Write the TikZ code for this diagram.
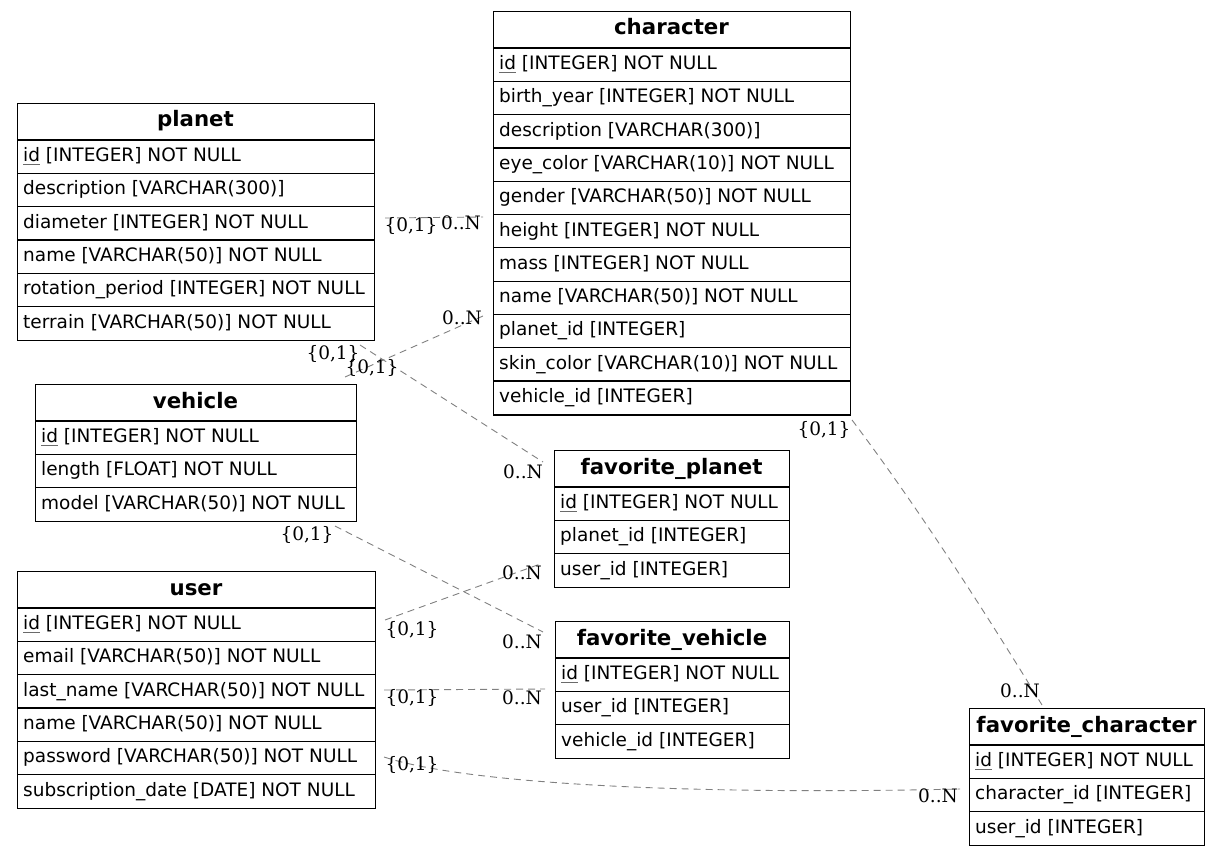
\documentclass[tikz,border=0pt]{standalone}
\usepackage{fontspec}
\setmainfont{DejaVu Sans}
\newfontfamily\cardfont{DejaVu Serif}
\usetikzlibrary{calc}

\definecolor{edgegray}{HTML}{808080}
\definecolor{keyline}{HTML}{6a6a6a}

\tikzset{
  tablebox/.style={draw=black, line width=1.2pt, fill=white, inner sep=0pt, anchor=north west},
  rowline/.style={draw=black, line width=1.2pt},
  titletext/.style={inner sep=0pt, anchor=base, font=\fontsize{21.3}{25}\selectfont\bfseries},
  fieldtext/.style={inner sep=0pt, anchor=base west, font=\fontsize{18.5}{22}\selectfont},
  relation/.style={draw=edgegray, line width=0.9pt, dash pattern=on 7pt off 5pt},
  card/.style={inner sep=0pt, font=\cardfont\fontsize{18.5}{22}\selectfont},
}

% primary key column name, underlined with a thin grey rule
\newcommand\pkey[1]{\leavevmode\setbox0\hbox{#1}\rlap{\color{keyline}\rule[-3pt]{\wd0}{0.8pt}}\box0\relax}

% #1 name, #2 left, #3 top, #4 width, #5 number of fields, #6 title, #7 fields
\newcommand\ertable[7]{%
  \node[tablebox, minimum width=#4pt, minimum height={37pt+#5*33.3pt}] (#1) at (#2,#3) {};
  \node[titletext] (#1-title) at ({#2+#4/2},{#3+24}) {#6};
  \foreach \fld [count=\i] in {#7} {
    \draw[rowline] ({#2},{#3+37+(\i-1)*33.3}) -- ++(#4,0);
    \node[fieldtext] (#1-f\i) at ({#2+6},{#3+37+(\i-1)*33.3+21.5}) {\fld};
  }%
}

\begin{document}
\begin{tikzpicture}[x=1pt, y=-1pt]
\useasboundingbox (0,0) rectangle (1220,856);

% tables
\ertable{planet}{17}{103}{357}{6}{planet}{
  \pkey{id} [INTEGER] NOT NULL,
  description [VARCHAR(300)],
  diameter [INTEGER] NOT NULL,
  name [VARCHAR(50)] NOT NULL,
  rotation\_period [INTEGER] NOT NULL,
  terrain [VARCHAR(50)] NOT NULL}

\ertable{character}{493}{11}{357}{11}{character}{
  \pkey{id} [INTEGER] NOT NULL,
  birth\_year [INTEGER] NOT NULL,
  description [VARCHAR(300)],
  eye\_color [VARCHAR(10)] NOT NULL,
  gender [VARCHAR(50)] NOT NULL,
  height [INTEGER] NOT NULL,
  mass [INTEGER] NOT NULL,
  name [VARCHAR(50)] NOT NULL,
  planet\_id [INTEGER],
  skin\_color [VARCHAR(10)] NOT NULL,
  vehicle\_id [INTEGER]}

\ertable{vehicle}{35}{384}{321}{3}{vehicle}{
  \pkey{id} [INTEGER] NOT NULL,
  length [FLOAT] NOT NULL,
  model [VARCHAR(50)] NOT NULL}

\ertable{user}{17}{571}{358}{6}{user}{
  \pkey{id} [INTEGER] NOT NULL,
  email [VARCHAR(50)] NOT NULL,
  last\_name [VARCHAR(50)] NOT NULL,
  name [VARCHAR(50)] NOT NULL,
  password [VARCHAR(50)] NOT NULL,
  subscription\_date [DATE] NOT NULL}

\ertable{favplanet}{554}{450}{235}{3}{favorite\_planet}{
  \pkey{id} [INTEGER] NOT NULL,
  planet\_id [INTEGER],
  user\_id [INTEGER]}

\ertable{favvehicle}{555}{621}{234}{3}{favorite\_vehicle}{
  \pkey{id} [INTEGER] NOT NULL,
  user\_id [INTEGER],
  vehicle\_id [INTEGER]}

\ertable{favcharacter}{969}{708}{235}{3}{favorite\_character}{
  \pkey{id} [INTEGER] NOT NULL,
  character\_id [INTEGER],
  user\_id [INTEGER]}

% relation end points
\coordinate (pc-a) at (385,218);  \coordinate (pc-b) at (483,217);
\coordinate (pf-a) at (360,345);  \coordinate (pf-b) at (543,462);
\coordinate (vc-a) at (345,377);  \coordinate (vc-b) at (483,316);
\coordinate (vf-a) at (335,526);  \coordinate (vf-b) at (543,632);
\coordinate (up-a) at (385,620);  \coordinate (up-b) at (543,563);
\coordinate (uv-a) at (384,690);  \coordinate (uv-b) at (545,689);
\coordinate (uc-a) at (384,757);  \coordinate (uc-b) at (960,789);
\coordinate (cc-a) at (852,420);  \coordinate (cc-b) at (1042,705);

% relations
\draw[relation] (pc-a) -- (pc-b);
\draw[relation] (pf-a) -- (pf-b);
\draw[relation] (vc-a) -- (vc-b);
\draw[relation] (vf-a) -- (vf-b);
\draw[relation] (up-a) -- (up-b);
\draw[relation] (uv-a) -- (uv-b);
\draw[relation] (uc-a) .. controls (470,785) and (700,795) .. (uc-b);
\draw[relation] (cc-a) .. controls (920,510) and (990,620) .. (cc-b);

% cardinalities
\node[card] (pc-one)  at (411,226) {\{0,1\}};
\node[card] (pc-many) at (461,223) {0..N};
\node[card] (pf-one)  at (333,354) {\{0,1\}};
\node[card] (pf-many) at (523,472) {0..N};
\node[card] (vc-one)  at (372,368) {\{0,1\}};
\node[card] (vc-many) at (462,318) {0..N};
\node[card] (vf-one)  at (307,535) {\{0,1\}};
\node[card] (vf-many) at (522,642) {0..N};
\node[card] (up-one)  at (412,630) {\{0,1\}};
\node[card] (up-many) at (522,573) {0..N};
\node[card] (uv-one)  at (412,698) {\{0,1\}};
\node[card] (uv-many) at (522,698) {0..N};
\node[card] (uc-one)  at (412,765) {\{0,1\}};
\node[card] (uc-many) at (938,796) {0..N};
\node[card] (cc-one)  at (824,430) {\{0,1\}};
\node[card] (cc-many) at (1020,691) {0..N};
\end{tikzpicture}
\end{document}
